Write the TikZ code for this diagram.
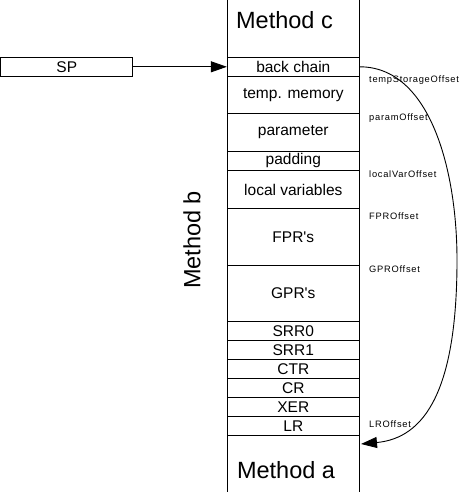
\documentclass[tikz,border=0pt]{standalone}
\usepackage{fontspec}
\setmainfont{Liberation Sans}
\newfontfamily\offsfont[LetterSpace=8]{Liberation Sans}
\usetikzlibrary{arrows.meta}

\tikzset{
  cell/.style={draw, line width=0.9pt, minimum width=132pt, inner sep=0pt,
    font=\fontsize{15.5}{16}\selectfont},
  offs/.style={anchor=west, inner sep=0pt, font=\offsfont\fontsize{9.3}{10}\selectfont},
  big/.style={inner sep=0pt, font=\fontsize{23.5}{25}\selectfont},
  tip/.style={line width=0.9pt, -{Triangle[length=16pt,width=11pt]}},
}

\begin{document}
\begin{tikzpicture}[x=1pt,y=-1pt]

\useasboundingbox (0,0) rectangle (469,492);
\fill[white] (0,0) rectangle (469,492);

% stack column
\draw[line width=0.9pt] (227.3,0) -- (227.3,492);
\draw[line width=0.9pt] (359.3,0) -- (359.3,492);

\node[big] (mc) at (284.5,20) {Method c};
\node[big] (ma) at (286,470) {Method a};
\node[big, rotate=90] (mb) at (192,240) {Method b};

% frame of method b
\node[cell, minimum height=19pt] (bc) at (293.3,66.8) {back chain};
\node[cell, minimum height=37pt] (tm) at (293.3,94.8) {temp. memory};
\node[cell, minimum height=38pt] (par) at (293.3,132.3) {parameter};
\node[cell, minimum height=19pt] (pad) at (293.3,160.8) {padding};
\node[cell, minimum height=38.4pt] (lv) at (293.3,189.5) {local variables};
\node[cell, minimum height=56.6pt] (fpr) at (293.3,237) {FPR\textquotesingle s};
\node[cell, minimum height=56pt] (gpr) at (293.3,293.3) {GPR\textquotesingle s};
\node[cell, minimum height=19pt] (srr0) at (293.3,330.8) {SRR0};
\node[cell, minimum height=19pt] (srr1) at (293.3,349.8) {SRR1};
\node[cell, minimum height=19pt] (ctr) at (293.3,368.8) {CTR};
\node[cell, minimum height=19pt] (cr) at (293.3,387.8) {CR};
\node[cell, minimum height=19pt] (xer) at (293.3,406.8) {XER};
\node[cell, minimum height=19.4pt] (lr) at (293.3,426) {LR};

% offsets
\node[offs] at (369,80) {tempStorageOffset};
\node[offs] at (369,118.3) {paramOffset};
\node[offs] at (369,174) {localVarOffset};
\node[offs] at (369,216) {FPROffset};
\node[offs] at (369,269) {GPROffset};
\node[offs] at (369,424) {LROffset};

% stack pointer
\node[cell] (sp) at (66.8,66.8) [minimum height=19pt] {SP};
\draw[tip] (sp.east) -- (bc.west);

\coordinate (lrend) at (361,444);
\draw[tip] (bc.east) .. controls (430,66.8) and (457,170) .. (457,260)
  .. controls (457,390) and (425,438) .. (lrend);

\end{tikzpicture}
\end{document}
